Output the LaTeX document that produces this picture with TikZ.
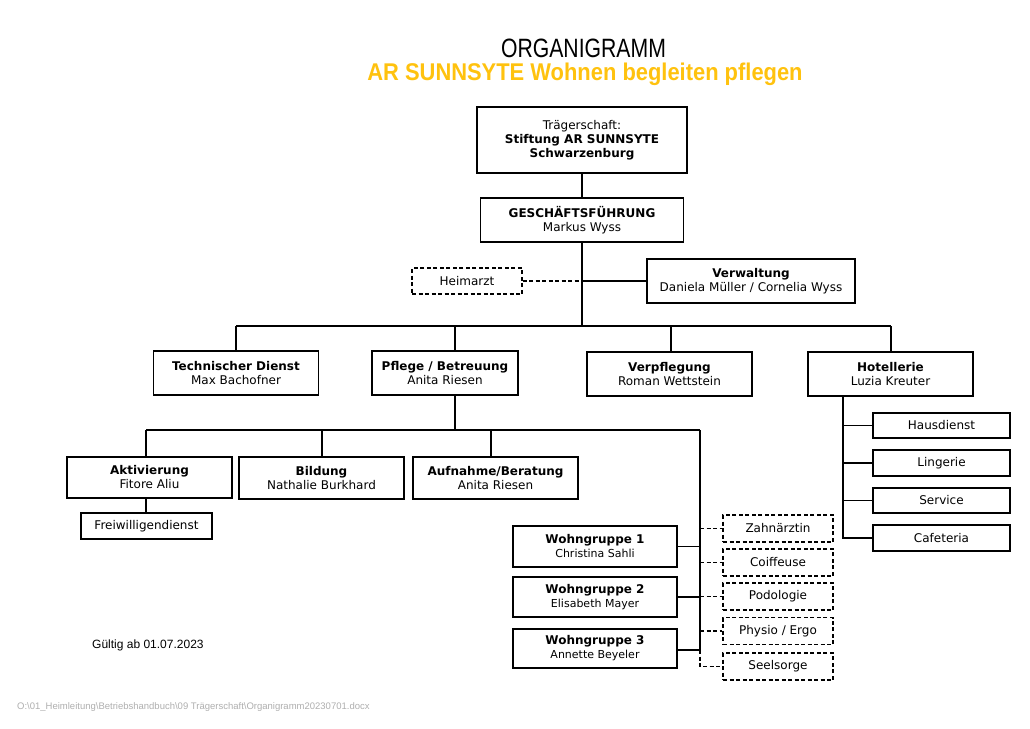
\documentclass[tikz,border=0pt]{standalone}
\usepackage{fontspec}
\setmainfont{DejaVu Sans}
\newfontfamily\titlefont{Liberation Sans}
\definecolor{titleyellow}{RGB}{255,194,14}
\definecolor{pathgray}{RGB}{175,175,175}
\tikzset{
  boxfont/.style={font=\fontsize{12}{14}\selectfont},
  topbox/.style={draw, line width=1.8pt, align=center, inner sep=0pt, boxfont},
  subbox/.style={draw, line width=1.2pt, align=center, inner sep=0pt, boxfont},
  extbox/.style={draw, dash pattern=on 4pt off 2.5pt, line width=1.2pt, align=center, inner sep=0pt, boxfont},
  conn/.style={line width=1.5pt},
  extconn/.style={line width=1.5pt, dash pattern=on 4pt off 2.5pt},
}
\begin{document}
\begin{tikzpicture}[x=1pt,y=-1pt]
\useasboundingbox (0,0) rectangle (1030,728);
\fill[white] (0,0) rectangle (1030,728);

% titles
\node[anchor=base, inner sep=0pt, font=\titlefont\fontsize{26.5}{28}\selectfont, xscale=0.8] (title) at (583.5,57) {ORGANIGRAMM};
\node[anchor=base, inner sep=0pt, font=\titlefont\bfseries\fontsize{24.2}{26}\selectfont, xscale=0.905, text=titleyellow] (subtitle) at (585,80.5) {AR SUNNSYTE Wohnen begleiten pflegen};

% top
\node[topbox, minimum width=210pt, minimum height=66pt] (traeger) at (582,140) {Trägerschaft:\\\textbf{Stiftung AR SUNNSYTE}\\\textbf{Schwarzenburg}};
\node[topbox, minimum width=203pt, minimum height=44pt] (gf) at (582,220) {\textbf{GESCHÄFTSFÜHRUNG}\\Markus Wyss};
\node[extbox, minimum width=110pt, minimum height=26pt] (heimarzt) at (467,281) {Heimarzt};
\node[topbox, minimum width=208pt, minimum height=44pt] (verw) at (751,281) {\textbf{Verwaltung}\\Daniela Müller / Cornelia Wyss};

% level 1
\node[topbox, minimum width=165pt, minimum height=44pt] (tech) at (236,373) {\textbf{Technischer Dienst}\\Max Bachofner};
\node[topbox, minimum width=146pt, minimum height=44pt] (pflege) at (445,373) {\textbf{Pflege / Betreuung}\\Anita Riesen};
\node[topbox, minimum width=165pt, minimum height=44pt] (verpf) at (669.5,374) {\textbf{Verpflegung}\\Roman Wettstein};
\node[topbox, minimum width=165pt, minimum height=44pt] (hotel) at (890.5,374) {\textbf{Hotellerie}\\Luzia Kreuter};

% level 2
\node[subbox, minimum width=165pt, minimum height=41pt] (akt) at (149.5,477.5) {\textbf{Aktivierung}\\Fitore Aliu};
\node[subbox, minimum width=165pt, minimum height=42pt] (bild) at (321.5,478) {\textbf{Bildung}\\Nathalie Burkhard};
\node[subbox, minimum width=165pt, minimum height=42pt] (aufn) at (495.5,478) {\textbf{Aufnahme/Beratung}\\Anita Riesen};
\node[subbox, minimum width=131pt, minimum height=26pt] (freiw) at (146.5,526) {Freiwilligendienst};

\node[subbox, minimum width=164pt, minimum height=41pt] (wg1) at (595,546.5) {\textbf{Wohngruppe 1}\\{\fontsize{11}{13}\selectfont Christina Sahli}};
\node[subbox, minimum width=164pt, minimum height=40pt] (wg2) at (595,597) {\textbf{Wohngruppe 2}\\{\fontsize{11}{13}\selectfont Elisabeth Mayer}};
\node[subbox, minimum width=164pt, minimum height=39pt] (wg3) at (595,648.5) {\textbf{Wohngruppe 3}\\{\fontsize{11}{13}\selectfont Annette Beyeler}};

\node[extbox, minimum width=110pt, minimum height=27pt] (zahn) at (778,528.5) {Zahnärztin};
\node[extbox, minimum width=110pt, minimum height=27pt] (coif) at (778,562.5) {Coiffeuse};
\node[extbox, minimum width=110pt, minimum height=27pt] (podo) at (778,596.5) {Podologie};
\node[extbox, minimum width=110pt, minimum height=27pt] (phys) at (778,631) {Physio / Ergo};
\node[extbox, minimum width=110pt, minimum height=27pt] (seel) at (778,666.5) {Seelsorge};

\node[subbox, minimum width=137pt, minimum height=25pt] (haus) at (941.5,425.5) {Hausdienst};
\node[subbox, minimum width=137pt, minimum height=26pt] (ling) at (941.5,463) {Lingerie};
\node[subbox, minimum width=137pt, minimum height=25pt] (serv) at (941.5,500.5) {Service};
\node[subbox, minimum width=137pt, minimum height=26pt] (cafe) at (941.5,538) {Cafeteria};

% footer
\node[anchor=base west, inner sep=0pt, font=\titlefont\fontsize{12}{14}\selectfont] (valid) at (92,648.5) {Gültig ab 01.07.2023};
\node[anchor=base west, inner sep=0pt, font=\titlefont\fontsize{9.5}{11}\selectfont, text=pathgray] (path) at (17,709) {O:\textbackslash 01\_Heimleitung\textbackslash Betriebshandbuch\textbackslash 09 Trägerschaft\textbackslash Organigramm20230701.docx};

% coordinates
\coordinate (jv) at (582,281);
\coordinate (busA) at (236,326);
\coordinate (busB) at (455,326);
\coordinate (busC) at (582,326);
\coordinate (busD) at (671,326);
\coordinate (busE) at (891,326);
\coordinate (p2) at (455,430);
\coordinate (b2A) at (146,430);
\coordinate (b2B) at (322,430);
\coordinate (b2C) at (491,430);
\coordinate (b2D) at (700,430);
\coordinate (wgEnd) at (700,650);
\coordinate (hv) at (843,538);

% connectors
\draw[conn] (traeger.south) -- (gf.north);
\draw[conn] (gf.south) -- (busC);
\draw[extconn] (heimarzt.east) -- (jv);
\draw[conn] (jv) -- (verw.west);
\draw[conn] (busA) -- (busE);
\draw[conn] (busA) -- (busA |- tech.north);
\draw[conn] (busB) -- (busB |- pflege.north);
\draw[conn] (busD) -- (busD |- verpf.north);
\draw[conn] (busE) -- (busE |- hotel.north);

\draw[conn] (p2 |- pflege.south) -- (p2);
\draw[conn] (b2A) -- (b2D);
\draw[conn] (b2A) -- (b2A |- akt.north);
\draw[conn] (b2B) -- (b2B |- bild.north);
\draw[conn] (b2C) -- (b2C |- aufn.north);
\draw[conn] (b2A |- akt.south) -- (b2A |- freiw.north);

\draw[conn] (b2D) -- (wgEnd);
\draw[conn] (wg1.east) -- (wg1.east -| b2D);
\draw[conn] (wg2.east) -- (wg2.east -| b2D);
\draw[conn] (wg3.east |- wgEnd) -- (wgEnd);

\draw[extconn] (zahn.west -| b2D) -- (zahn.west);
\draw[extconn] (coif.west -| b2D) -- (coif.west);
\draw[extconn] (podo.west -| b2D) -- (podo.west);
\draw[extconn] (phys.west -| b2D) -- (phys.west);
\draw[extconn] (wgEnd) -- (seel.west -| wgEnd) -- (seel.west);

\draw[conn] (hv |- hotel.south) -- (hv) -- (cafe.west);
\draw[conn] (haus.west -| hv) -- (haus.west);
\draw[conn] (ling.west -| hv) -- (ling.west);
\draw[conn] (serv.west -| hv) -- (serv.west);
\end{tikzpicture}
\end{document}
